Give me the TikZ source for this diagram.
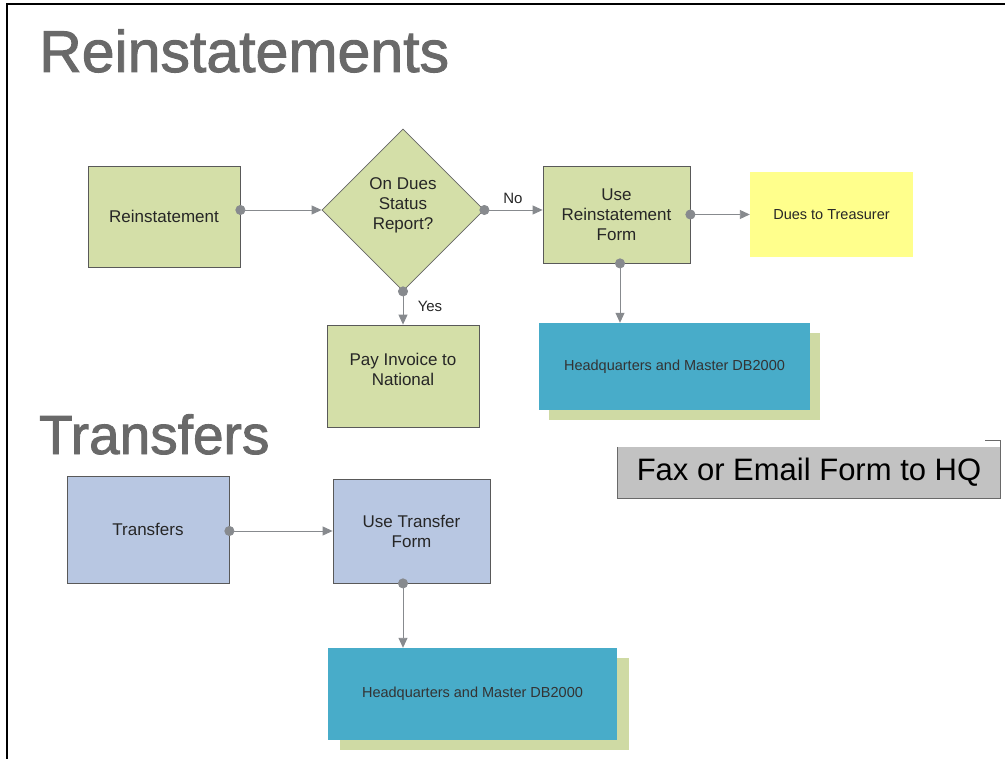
\documentclass[tikz,border=0pt]{standalone}
\usepackage{fontspec}
\setmainfont{Liberation Sans}
\newfontfamily\headfont[FakeBold=1.6]{Liberation Sans}
\usetikzlibrary{arrows.meta,shapes.geometric,shadows}
\definecolor{boxgreen}{RGB}{212,223,168}
\definecolor{boxblue}{RGB}{184,199,226}
\definecolor{dbcyan}{RGB}{72,172,201}
\definecolor{shadowgreen}{RGB}{207,218,164}
\definecolor{noteyellow}{RGB}{255,255,140}
\definecolor{faxgray}{RGB}{194,194,194}
\definecolor{faxedge}{RGB}{105,105,105}
\definecolor{linegray}{RGB}{135,138,142}
\definecolor{titlegray}{RGB}{105,105,105}

\begin{document}
\begin{tikzpicture}[x=1pt,y=-1pt,
    box/.style={draw=black!65, line width=0.8pt, fill=boxgreen, align=center, inner sep=0pt,
                font=\fontsize{17}{20}\selectfont, text=black!85},
    bluebox/.style={box, fill=boxblue},
    dbbox/.style={fill=dbcyan, align=center, inner sep=0pt, text=black!80,
                  font=\fontsize{14.5}{17}\selectfont},
    flow/.style={draw=linegray, line width=0.9pt,
                 {Circle[length=10pt]}-{Triangle[length=10pt,width=9pt]}, shorten <=-5pt},
    heading/.style={anchor=base west, inner sep=0pt, text=titlegray},
    tag/.style={font=\fontsize{15}{18}\selectfont, text=black!85, inner sep=0pt}]
        \useasboundingbox (0,0) rectangle (1005,759);
        % frame
        \path[draw, line width=1.2pt](7,759)--(7,4)--(1005,4);
        % headings
        \node[heading, font=\headfont\fontsize{59}{62}\selectfont](reinsthead)at(39,72){Reinstatements};
        \node[heading, font=\headfont\fontsize{55}{57}\selectfont](transhead)at(39,454){Transfers};
        % reinstatement flow
        \node[box, minimum width=152, minimum height=101](reinst)at(164,216.5){Reinstatement};
        \node[box, diamond, draw=black!60, minimum width=162, minimum height=162, text depth=13pt]
            (onstatus)at(403,210){On Dues\\Status\\Report?};
        \node[box, minimum width=147, minimum height=97](usereinst)at(616.5,214.5){Use\\Reinstatement\\Form};
        \node[fill=noteyellow, minimum width=163, minimum height=85, inner sep=0pt,
              font=\fontsize{14.5}{17}\selectfont, text=black!85](treasurer)at(831.5,214.5){Dues to Treasurer};
        \node[box, minimum width=152, minimum height=102, text depth=13pt](payinv)at(403,376)
            {Pay Invoice to\\National};
        \node[dbbox, minimum width=271, minimum height=87,
              drop shadow={shadow xshift=10pt, shadow yshift=-10pt, fill=shadowgreen, opacity=1}]
            (hqreinst)at(674.5,366.5){Headquarters and Master DB2000};
        \path[flow](reinst.east |- onstatus)to(onstatus.west);
        \path[flow](onstatus.east)to(onstatus.east -| usereinst.west);
        \path[flow](usereinst.east |- treasurer)to(treasurer.west);
        \path[flow]([xshift=3.5pt]usereinst.south)to([xshift=3.5pt]usereinst.south |- hqreinst.north);
        \path[flow](onstatus.south)to(payinv.north);
        \node[tag](nolbl)at(513,198){No};
        \node[tag](yeslbl)at(430,306){Yes};
        % fax note
        \node[fill=faxgray, minimum width=382, minimum height=51, inner sep=0pt,
              font=\fontsize{31}{34}\selectfont, text=black](fax)at(809,472.5){Fax or Email Form to HQ};
        \path[draw=faxedge, line width=1.3pt](fax.north west)--(fax.south west)--(fax.south east)
            --([yshift=6pt]fax.north east)--++(-15,0);
        % transfer flow
        \node[bluebox, minimum width=162, minimum height=107](transfers)at(148,529.5){Transfers};
        \node[bluebox, minimum width=157, minimum height=104](usetrans)at(411.5,531){Use Transfer\\Form};
        \node[dbbox, minimum width=289, minimum height=92,
              drop shadow={shadow xshift=12pt, shadow yshift=-10pt, fill=shadowgreen, opacity=1}]
            (hqtrans)at(472.5,694){Headquarters and Master DB2000};
        \path[flow](transfers.east |- usetrans)to(usetrans.west);
        \path[flow]([xshift=-8.5pt]usetrans.south)to([xshift=-8.5pt]usetrans.south |- hqtrans.north);
\end{tikzpicture}
\end{document}
